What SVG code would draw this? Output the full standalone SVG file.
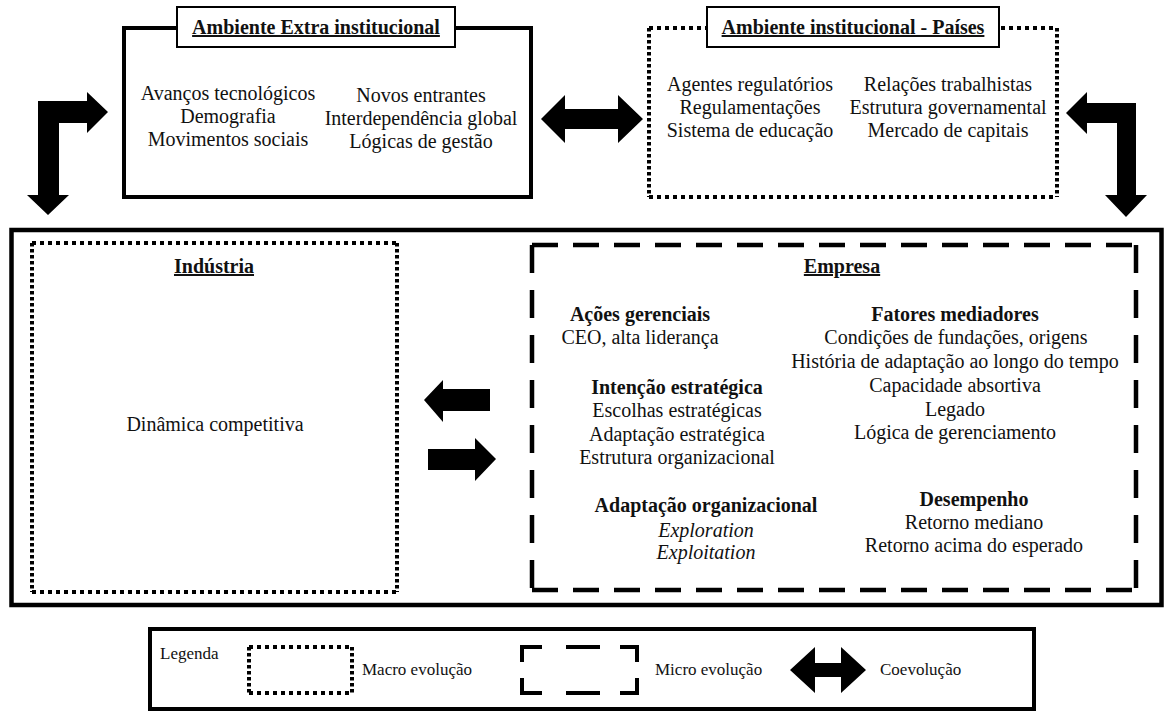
<svg xmlns="http://www.w3.org/2000/svg" width="1167" height="718" viewBox="0 0 1167 718">
<style>
text{font-size:20px;fill:#111;text-anchor:middle}
.b{font-weight:bold}
.u{text-decoration:underline}
.i{font-style:italic}
.lg{font-size:17px;text-anchor:start}
.solid{fill:none;stroke:#000;stroke-width:4}
.title{fill:#fff;stroke:#000;stroke-width:2}
.dh{fill:none;stroke:#000;stroke-width:4;stroke-dasharray:4 4}
.dv{fill:none;stroke:#000;stroke-width:4;stroke-dasharray:3.5 2.5}
.dash{fill:none;stroke:#000;stroke-width:4.5;stroke-dasharray:26 15}
.dashv{fill:none;stroke:#000;stroke-width:4.5;stroke-dasharray:28 17}
.arrow{fill:#000}
</style>
<rect x="0" y="0" width="1167" height="718" fill="#fff"/>
<g font-family="'Liberation Serif', Tinos, 'Times New Roman', 'DejaVu Serif', serif">
<g id="extra">
<rect class="solid" x="124" y="28" width="407" height="169"/>
<rect class="title" x="177" y="7" width="278" height="40"/>
<text class="b u" x="316" y="34">Ambiente Extra institucional</text>
<text x="228" y="100">Avanços tecnológicos</text>
<text x="228" y="123">Demografia</text>
<text x="228" y="146">Movimentos sociais</text>
<text x="421" y="102">Novos entrantes</text>
<text x="421" y="125">Interdependência global</text>
<text x="421" y="148">Lógicas de gestão</text>
</g>

<g id="institucional">
<line class="dh" x1="649" y1="28" x2="1057" y2="28"/>
<line class="dh" x1="649" y1="197" x2="1057" y2="197"/>
<line class="dv" x1="649" y1="28" x2="649" y2="197"/>
<line class="dv" x1="1057" y1="28" x2="1057" y2="197"/>
<rect class="title" x="707" y="7" width="292" height="40"/>
<text class="b u" x="853" y="34">Ambiente institucional - Países</text>
<text x="750" y="91">Agentes regulatórios</text>
<text x="750" y="114">Regulamentações</text>
<text x="750" y="137">Sistema de educação</text>
<text x="948" y="91">Relações trabalhistas</text>
<text x="948" y="114">Estrutura governamental</text>
<text x="948" y="137">Mercado de capitais</text>
</g>

<g id="contexto">
<rect x="11.5" y="230" width="1150" height="375" fill="none" stroke="#000" stroke-width="4.5"/>
</g>

<g id="industria">
<line class="dh" x1="32" y1="243" x2="397" y2="243"/>
<line class="dh" x1="32" y1="592" x2="397" y2="592"/>
<line class="dv" x1="32" y1="243" x2="32" y2="592"/>
<line class="dv" x1="397" y1="243" x2="397" y2="592"/>
<text class="b u" x="214" y="273">Indústria</text>
<text x="215" y="431">Dinâmica competitiva</text>
</g>

<g id="empresa">
<line class="dash" x1="532" y1="245" x2="1136" y2="245"/>
<line class="dash" x1="532" y1="590" x2="1136" y2="590"/>
<line class="dashv" x1="532" y1="245" x2="532" y2="590"/>
<line class="dashv" x1="1136" y1="245" x2="1136" y2="590"/>
<text class="b u" x="842" y="273">Empresa</text>
<text class="b" x="640" y="321">Ações gerenciais</text>
<text x="640" y="344">CEO, alta liderança</text>
<text class="b" x="677" y="394">Intenção estratégica</text>
<text x="677" y="417">Escolhas estratégicas</text>
<text x="677" y="441">Adaptação estratégica</text>
<text x="677" y="464">Estrutura organizacional</text>
<text class="b" x="706" y="512">Adaptação organizacional</text>
<text class="i" x="706" y="537">Exploration</text>
<text class="i" x="706" y="559">Exploitation</text>
<text class="b" x="955" y="321">Fatores mediadores</text>
<text x="956" y="344">Condições de fundações, origens</text>
<text x="955" y="368">História de adaptação ao longo do tempo</text>
<text x="955" y="392">Capacidade absortiva</text>
<text x="955" y="416">Legado</text>
<text x="955" y="439">Lógica de gerenciamento</text>
<text class="b" x="974" y="506">Desempenho</text>
<text x="974" y="529">Retorno mediano</text>
<text x="974" y="552">Retorno acima do esperado</text>
</g>

<g id="connectors">
<polygon class="arrow" points="38,195 38,101 87,101 87,92 108,112 87,133 87,123 59,123 59,195 69,195 48,215 27,195"/>
<polygon class="arrow" points="1136,195 1136,103 1087,103 1087,92 1066,113 1087,134 1087,123 1117,123 1117,195 1105,195 1126,217 1147,195"/>
<polygon class="arrow" points="541,119 565,95 565,109 618,109 618,95 643,119 618,143 618,129 565,129 565,143"/>
<polygon class="arrow" points="424,400 443,380 443,389 490,389 490,411 443,411 443,422"/>
<polygon class="arrow" points="496,459 475,438 475,449 428,449 428,470 475,470 475,481"/>
</g>

<g id="legenda">
<rect class="solid" x="150" y="629" width="884" height="80" stroke-width="3.5"/>
<text class="lg" x="160" y="659">Legenda</text>
<line class="dh" x1="249" y1="647" x2="352" y2="647"/>
<line class="dh" x1="249" y1="693" x2="352" y2="693"/>
<line class="dv" x1="249" y1="647" x2="249" y2="693"/>
<line class="dv" x1="352" y1="647" x2="352" y2="693"/>
<text class="lg" x="362" y="675">Macro evolução</text>
<path d="M522,662 V647 H542 M566,647 H600 M620,647 H637 V662 M637,678 V693 H620 M600,693 H566 M542,693 H522 V678" fill="none" stroke="#000" stroke-width="4"/>
<text class="lg" x="655" y="675">Micro evolução</text>
<polygon class="arrow" points="790,670 815,647 815,663 841,663 841,647 866,670 841,693 841,677 815,677 815,693"/>
<text class="lg" x="880" y="675">Coevolução</text>
</g>
</g>
</svg>
